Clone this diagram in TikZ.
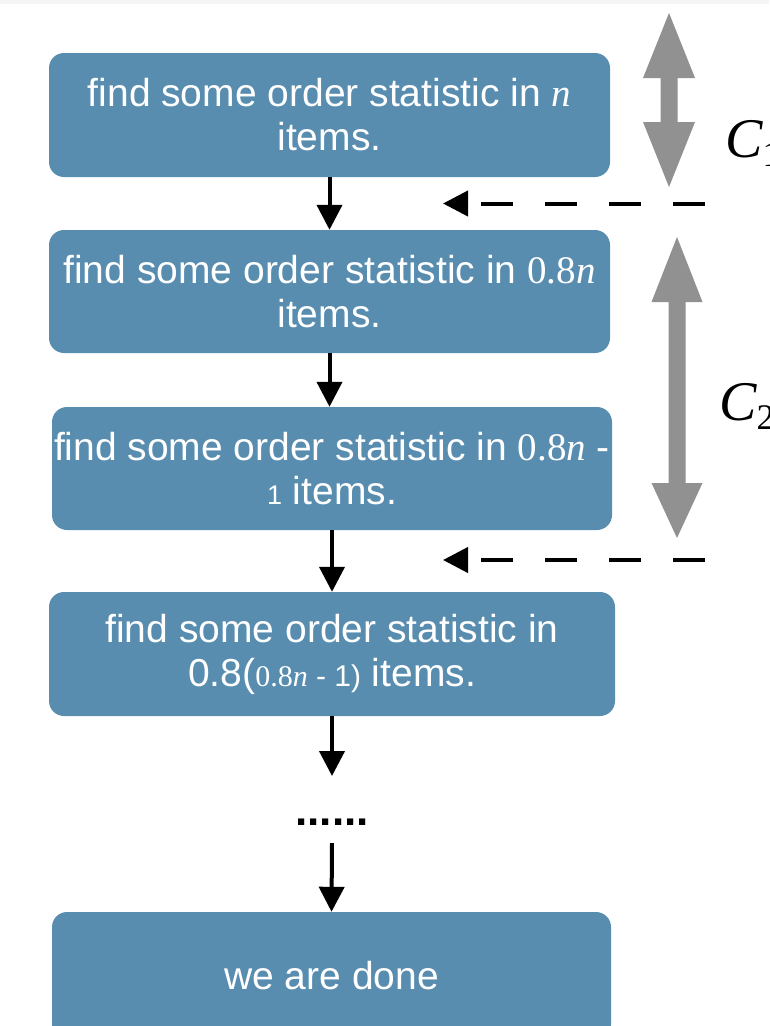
\documentclass[tikz,border=0pt]{standalone}
\usepackage{fontspec}
\setmainfont{Liberation Sans}
\newfontfamily\serifm{Liberation Serif}
\usetikzlibrary{arrows.meta}
\definecolor{boxblue}{RGB}{88,141,176}
\definecolor{arrgray}{RGB}{145,145,145}
\definecolor{bandgray}{RGB}{245,245,245}
\newcommand{\mn}{{\serifm\itshape n}}
\newcommand{\ezn}{{\serifm 0.8\textit{n}}}
\begin{document}
\begin{tikzpicture}[x=1pt,y=-1pt,
  box/.style={fill=boxblue, rounded corners=15pt, inner sep=0pt, text=white, align=center,
    font=\fontsize{39}{44}\selectfont},
  arr/.style={line width=4pt, -{Triangle[width=25pt,length=25pt]}},
  darr/.style={arr, dash pattern=on 32pt off 32pt},
  grayarrow/.style={fill=arrgray},
  clabel/.style={inner sep=0pt, anchor=base west, font=\serifm\itshape\fontsize{56}{56}\selectfont}
]
\useasboundingbox (0,0) rectangle (769,1026);
\fill[bandgray] (0,0) rectangle (769,3.5);

% boxes
\node[box, minimum width=561pt, minimum height=124pt] (b1) at (329.5,115)
  {find some order statistic in \mn\\items.};
\node[box, minimum width=561pt, minimum height=123pt] (b2) at (329.5,291.5)
  {find some order statistic in \ezn\\items.};
\node[box, minimum width=560pt, minimum height=123pt] (b3) at (332,468.5)
  {find some order statistic in \ezn{} -\\{\fontsize{27}{27}\selectfont 1} items.};
\node[box, minimum width=566pt, minimum height=124pt] (b4) at (332,654)
  {find some order statistic in\\0.8({\fontsize{30}{30}\selectfont\ezn{} - 1)} items.};
\node[box, minimum width=559pt, minimum height=128pt] (b5) at (331.5,976)
  {we are done};

% ellipsis
\node[inner sep=0pt, anchor=base, font=\bfseries\fontsize{44}{44}\selectfont] (dots) at (332,825) {......};
\coordinate (dtop) at (332,776);
\coordinate (dbot) at (332,843);

% vertical arrows
\draw[arr] (b1.south) -- (b2.north);
\draw[arr] (b2.south) -- (b2.south |- b3.north);
\draw[arr] (b3.south) -- (b4.north);
\draw[arr] (b4.south) -- (dtop);
\draw[arr] (dbot) -- (b5.north);

% dashed arrows
\coordinate (d1s) at (705,203.5);
\coordinate (d1e) at (443,203.5);
\coordinate (d2s) at (705,560);
\coordinate (d2e) at (443,560);
\draw[darr] (d1s) -- (d1e);
\draw[darr] (d2s) -- (d2e);

% gray double arrows
\fill[grayarrow] (669,13) -- (695,78) -- (677.5,78) -- (677.5,122) -- (695,122) -- (669,187)
  -- (643,122) -- (660.5,122) -- (660.5,78) -- (643,78) -- cycle;
\fill[grayarrow] (677,237) -- (702.5,302) -- (685.5,302) -- (685.5,483) -- (702.5,483) -- (677,538)
  -- (651.5,483) -- (668.5,483) -- (668.5,302) -- (651.5,302) -- cycle;

% labels
\node[clabel] (c1) at (725,157) {C\raisebox{-9pt}{\upshape\fontsize{36}{36}\selectfont 1}};
\node[clabel] (c2) at (719,420) {C\raisebox{-9pt}{\upshape\fontsize{36}{36}\selectfont 2}};
\end{tikzpicture}
\end{document}
